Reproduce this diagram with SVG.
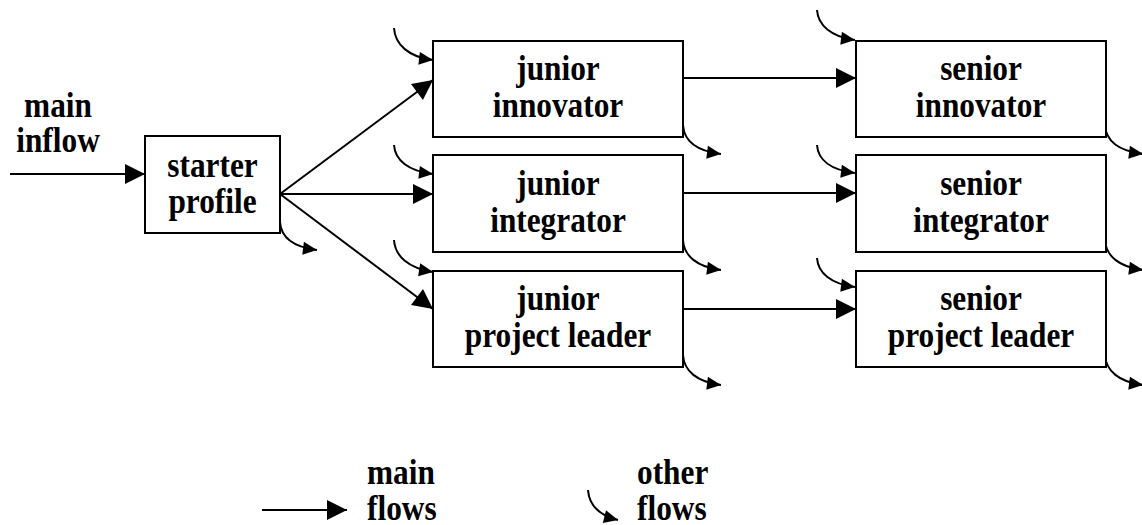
<svg xmlns="http://www.w3.org/2000/svg" width="1142" height="525" viewBox="0 0 1142 525">
<style>
.box{fill:#fff;stroke:#000;stroke-width:2}
.t{font-family:"Liberation Serif","Times New Roman",serif;font-weight:bold;font-size:36px;fill:#000}
.c{text-anchor:middle}
.main{stroke:#000;stroke-width:2;fill:none;marker-end:url(#ah)}
.oth{stroke:#000;stroke-width:2;fill:none;marker-end:url(#oh)}
</style>
<defs>
<marker id="ah" markerUnits="userSpaceOnUse" markerWidth="22" markerHeight="22" viewBox="0 -11 21 22" refX="20" refY="0" orient="auto">
<path d="M0,-10 L20,0 L0,10 z" fill="#000"/>
</marker>
<marker id="oh" markerUnits="userSpaceOnUse" markerWidth="16" markerHeight="16" viewBox="0 -8 15 16" refX="14" refY="0" orient="auto">
<path d="M0,-6.5 L14,0 L0,6.5 z" fill="#000"/>
</marker>
</defs>
<rect width="1142" height="525" fill="#fff"/>

<g id="connectors">
<line class="main" x1="10" y1="174" x2="145" y2="174"/>
<line class="main" x1="280" y1="194" x2="433" y2="80"/>
<line class="main" x1="280" y1="194" x2="433" y2="194"/>
<line class="main" x1="280" y1="194" x2="433" y2="309"/>
<line class="main" x1="683" y1="78" x2="856" y2="78"/>
<line class="main" x1="683" y1="193" x2="856" y2="193"/>
<line class="main" x1="683" y1="309" x2="856" y2="309"/>

<path class="oth" d="M280,222 C281,237 293,247 317,250"/>

<path class="oth" d="M394,28 C395,44 408,57 433,60"/>
<path class="oth" d="M394,145 C395,160 408,171 433,174"/>
<path class="oth" d="M394,240 C395,256 408,268 433,272"/>

<path class="oth" d="M683,125 C684,141 697,151 721,154"/>
<path class="oth" d="M683,240 C684,256 697,267 721,270"/>
<path class="oth" d="M683,355 C684,371 697,382 721,385"/>

<path class="oth" d="M817,10 C818,25 831,37 855,40"/>
<path class="oth" d="M817,145 C818,160 831,170 855,173"/>
<path class="oth" d="M817,258 C818,273 831,284 855,287"/>

<path class="oth" d="M1105,125 C1106,141 1119,151 1143,154"/>
<path class="oth" d="M1105,240 C1106,256 1119,267 1143,270"/>
<path class="oth" d="M1105,355 C1106,371 1119,382 1143,385"/>
</g>

<g id="inflow-label">
<text class="t c" transform="translate(58 117) scale(0.87 1)">main</text>
<text class="t c" transform="translate(58 152) scale(0.87 1)">inflow</text>
</g>

<g id="starter">
<rect class="box" x="145" y="136" width="135" height="97"/>
<text class="t c" transform="translate(212.5 177) scale(0.87 1)">starter</text>
<text class="t c" transform="translate(212.5 213) scale(0.87 1)">profile</text>
</g>

<g id="junior-innovator">
<rect class="box" x="433" y="41" width="250" height="96"/>
<text class="t c" transform="translate(558 80) scale(0.87 1)">junior</text>
<text class="t c" transform="translate(558 117) scale(0.87 1)">innovator</text>
</g>
<g id="junior-integrator">
<rect class="box" x="433" y="155" width="250" height="97"/>
<text class="t c" transform="translate(558 195) scale(0.87 1)">junior</text>
<text class="t c" transform="translate(558 232) scale(0.87 1)">integrator</text>
</g>
<g id="junior-project-leader">
<rect class="box" x="433" y="271" width="250" height="96"/>
<text class="t c" transform="translate(558 310) scale(0.87 1)">junior</text>
<text class="t c" transform="translate(558 347) scale(0.87 1)">project leader</text>
</g>

<g id="senior-innovator">
<rect class="box" x="856" y="41" width="250" height="96"/>
<text class="t c" transform="translate(981 80) scale(0.87 1)">senior</text>
<text class="t c" transform="translate(981 117) scale(0.87 1)">innovator</text>
</g>
<g id="senior-integrator">
<rect class="box" x="856" y="155" width="250" height="97"/>
<text class="t c" transform="translate(981 195) scale(0.87 1)">senior</text>
<text class="t c" transform="translate(981 232) scale(0.87 1)">integrator</text>
</g>
<g id="senior-project-leader">
<rect class="box" x="856" y="271" width="250" height="96"/>
<text class="t c" transform="translate(981 310) scale(0.87 1)">senior</text>
<text class="t c" transform="translate(981 347) scale(0.87 1)">project leader</text>
</g>

<g id="legend">
<line class="main" x1="262" y1="510" x2="347" y2="510"/>
<text class="t" transform="translate(367 484) scale(0.87 1)">main</text>
<text class="t" transform="translate(367 520) scale(0.87 1)">flows</text>
<path class="oth" d="M588,490 C589,504 598,515 618,520"/>
<text class="t" transform="translate(637 484) scale(0.87 1)">other</text>
<text class="t" transform="translate(637 520) scale(0.87 1)">flows</text>
</g>
</svg>
